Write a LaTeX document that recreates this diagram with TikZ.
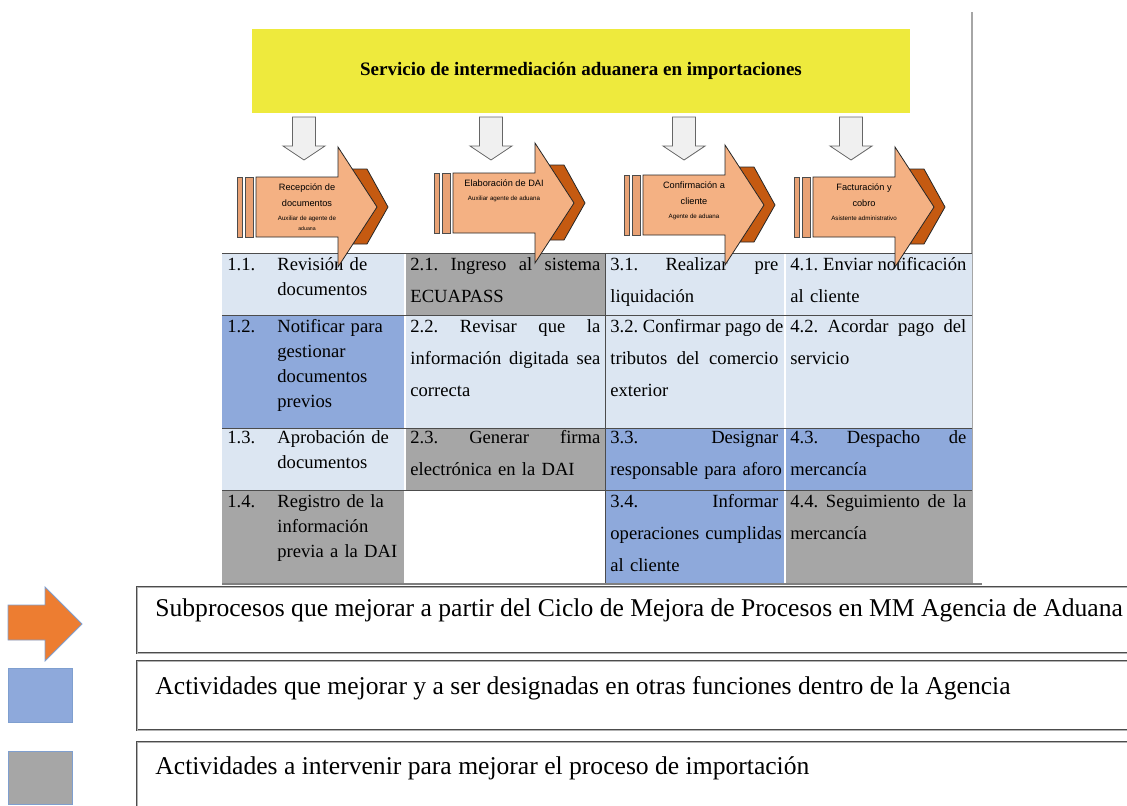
\documentclass[tikz,border=0pt]{standalone}
\usepackage{fontspec}
\setmainfont{Liberation Serif}
\setsansfont{Liberation Sans}
\definecolor{celeste}{HTML}{DCE6F2}
\definecolor{azul}{HTML}{8EA9DB}
\definecolor{gris}{HTML}{A6A6A6}
\definecolor{amarillo}{HTML}{EEEA3D}
\definecolor{naranjaclaro}{HTML}{F4B183}
\definecolor{naranjamedio}{HTML}{E9A275}
\definecolor{naranjaoscuro}{HTML}{C55A11}
\definecolor{naranja}{HTML}{ED7D31}
\definecolor{bordeazul}{HTML}{7F9FCF}
\newcommand{\cw}{90pt}
\newcommand{\jl}[1]{\leavevmode\hbox to \cw{\spaceskip=0.25em plus 1fil\relax #1}}% linea justificada
\newcommand{\subf}{\fontsize{3.1}{5}\selectfont}
\newcommand{\tinyf}{\fontsize{2.6}{4}\selectfont}
\tikzset{
  title_box/.style = {fill=amarillo, minimum width=329pt, minimum height=42pt,
    inner sep=0pt, font=\bfseries\fontsize{9.5}{11}\selectfont},
  down_arrow/.style = {draw=black!60, fill=black!6, line width=0.4pt},% flecha blanca
  proc_arrow/.style = {draw=black!85, fill=naranjaclaro, line width=0.4pt},% subproceso
  proc_chevron/.style = {draw=black!85, fill=naranjaoscuro, line width=0.4pt},
  proc_stripe/.style = {draw=black!70, fill=naranjamedio, line width=0.3pt},
  proc_label/.style = {align=center, inner sep=0pt, anchor=north,
    font=\sffamily\fontsize{4.6}{8}\selectfont},
  cell_text/.style = {anchor=north west, inner sep=0pt, align=left, text width=#1,
    font=\fontsize{9.3}{16}\selectfont,
    execute at begin node={\frenchspacing\def\cw{#1}\rule{0pt}{7pt}}},% celda de la tabla
  cell_text/.default = 90pt,
  cell_narrow/.style = {cell_text=70pt, font=\fontsize{9.3}{12.5}\selectfont},
  cell_num/.style = {cell_text=22pt},
  legend_box/.style = {draw=black!70, line width=0.35pt, double=black!30, double distance=0.4pt},
  legend_sq/.style = {draw=bordeazul, line width=0.4pt},
  legend_text/.style = {anchor=base west, inner sep=0pt, font=\fontsize{12.8}{15}\selectfont}
}
\begin{document}
\begin{tikzpicture}[x=0.5pt, y=-0.5pt]
  \useasboundingbox (0,0) rectangle (1127,805);
  \clip (0,0) rectangle (1127,805);
  \node [title_box] (titulo) at (581,71) {Servicio de intermediación aduanera en importaciones};
  \draw [gray!70, line width=1pt] (972,12) -- (972,584);
  % celdas
  \foreach \ya/\yb/\ca/\cb/\cc/\cd in {253/315/celeste/gris/celeste/celeste,
      315/428/azul/celeste/celeste/celeste, 428/490/celeste/gris/azul/azul,
      490/584/gris/white/azul/gris}{
    \fill [\ca] (222,\ya) rectangle (405,\yb);
    \fill [\cb] (405,\ya) rectangle (605,\yb);
    \fill [\cc] (605,\ya) rectangle (785,\yb);
    \fill [\cd] (785,\ya) rectangle (972,\yb);
  }
  \foreach \x in {405,785}
    \draw [white, line width=0.6pt] (\x,253) -- (\x,584);
  \draw [black!70, line width=0.5pt] (605,253) -- (605,584);
  \foreach \y in {253,315,428,490}
    \draw [black!70, line width=0.5pt] (222,\y) -- (972,\y);
  \draw [gray, line width=0.8pt] (222,584) -- (982,584);
  % fila 1
  \node [cell_num] (n11) at (227,256) {1.1.};
  \node [cell_narrow] (c11) at (277,256) {Revisión de\\documentos};
  \node [cell_text=95pt] (c21) at (410,256) {\jl{2.1. Ingreso al sistema}\\ECUAPASS};
  \node [cell_text=84pt] (c31) at (610,256) {\jl{3.1. Realizar pre}\\liquidación};
  \node [cell_text=88pt] (c41) at (790,256) {\jl{4.1. Enviar notificación}\\al cliente};
  % fila 2
  \node [cell_num] (n12) at (227,318) {1.2.};
  \node [cell_narrow] (c12) at (277,318) {Notificar para\\gestionar\\documentos\\previos};
  \node [cell_text=95pt] (c22) at (410,318) {\jl{2.2. Revisar que la}\\\jl{información digitada sea}\\correcta};
  \node [cell_text=84pt] (c32) at (610,318) {\jl{3.2. Confirmar pago de}\\\jl{tributos del comercio}\\exterior};
  \node [cell_text=88pt] (c42) at (790,318) {\jl{4.2. Acordar pago del}\\servicio};
  % fila 3
  \node [cell_num] (n13) at (227,429) {1.3.};
  \node [cell_narrow] (c13) at (277,429) {Aprobación de\\documentos};
  \node [cell_text=95pt] (c23) at (410,429) {\jl{2.3. Generar firma}\\electrónica en la DAI};
  \node [cell_text=84pt] (c33) at (610,429) {\jl{3.3. Designar}\\\mbox{responsable para aforo}};
  \node [cell_text=88pt] (c43) at (790,429) {\jl{4.3. Despacho de}\\mercancía};
  % fila 4
  \node [cell_num] (n14) at (227,493) {1.4.};
  \node [cell_narrow] (c14) at (277,493) {Registro de la\\información\\previa a la DAI};
  \node [cell_text=84pt] (c34) at (610,493) {\jl{3.4. Informar}\\\mbox{operaciones cumplidas}\\al cliente};
  \node [cell_text=88pt] (c44) at (790,493) {\jl{4.4. Seguimiento de la}\\mercancía};
  % subprocesos
  \foreach \L/\cy/\dx/\nm/\txt in {
      256/207/304/rec/{Recepción de\\documentos\\[-1pt]\subf Auxiliar de agente de\\[-3pt]\tinyf aduana},
      453/203/491/ela/{Elaboración de DAI\\[-1pt]\subf Auxiliar agente de aduana},
      643/205/684/con/{Confirmación a\\cliente\\[-1pt]\subf Agente de aduana},
      813/207/851/fac/{Facturación y\\cobro\\[-1pt]\subf Asistente administrativo}}{
    \draw [down_arrow] (\dx-11.5,117) -- (\dx+11.5,117) -- (\dx+11.5,146) -- (\dx+21,146)
      -- (\dx,160) -- (\dx-21,146) -- (\dx-11.5,146) -- cycle;
    \draw [proc_stripe] (\L-19,\cy-30) rectangle (\L-14,\cy+30);
    \draw [proc_stripe] (\L-11,\cy-30) rectangle (\L-3,\cy+30);
    \draw [proc_chevron] (\L+96,\cy-38) -- (\L+111,\cy-38) -- (\L+132,\cy) -- (\L+111,\cy+37)
      -- (\L+97,\cy+37) -- (\L+117,\cy) -- cycle;
    \draw [proc_arrow] (\L,\cy-30) -- (\L+82,\cy-30) -- (\L+82,\cy-60) -- (\L+121,\cy)
      -- (\L+82,\cy+60) -- (\L+82,\cy+30) -- (\L,\cy+30) -- cycle;
    \node [proc_label] (\nm) at (\L+51,\cy-24) {\txt};
  }
  % leyenda
  \draw [legend_box] (137,587) rectangle (1140,653);
  \draw [legend_box] (137,661) rectangle (1140,730);
  \draw [legend_box] (137,742) rectangle (1140,815);
  \draw [legend_sq, fill=naranja] (8,605) -- (45,605) -- (45,587) -- (82,624) -- (45,661)
    -- (45,640) -- (8,640) -- cycle;
  \draw [legend_sq, fill=azul] (8,668) rectangle (72,722);
  \draw [legend_sq, fill=gris] (8,751) rectangle (72,804);
  \node [legend_text] (ley1) at (155,616) {Subprocesos que mejorar a partir del Ciclo de Mejora de Procesos en MM Agencia de Aduana};
  \node [legend_text] (ley2) at (155,694) {Actividades que mejorar y a ser designadas en otras funciones dentro de la Agencia};
  \node [legend_text] (ley3) at (155,774) {Actividades a intervenir para mejorar el proceso de importación};
\end{tikzpicture}
\end{document}
